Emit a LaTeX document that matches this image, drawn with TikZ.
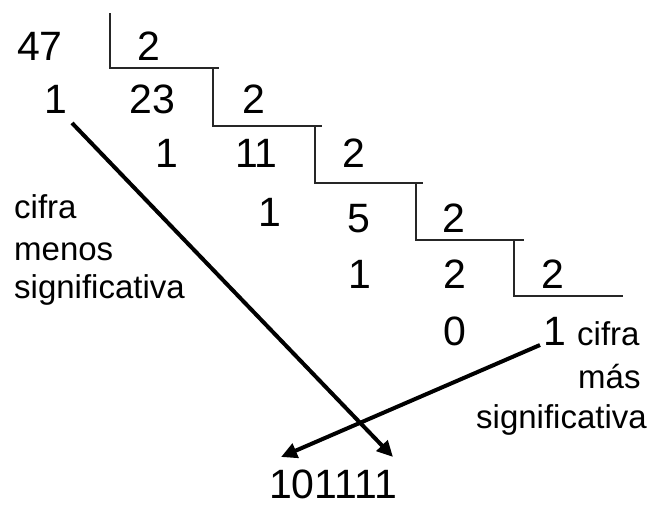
\documentclass[tikz,border=0pt]{standalone}
\usepackage{fontspec}
\setmainfont{Liberation Sans}
\usetikzlibrary{arrows.meta}
\tikzset{
  num/.style={inner sep=0pt, anchor=base, font=\fontsize{41}{48}\selectfont},
  lbl/.style={inner sep=0pt, anchor=base west, font=\fontsize{33}{40}\selectfont},
  stair/.style={line width=1.3pt, black!85},
  bigarrow/.style={line width=4pt, -{Triangle[length=16pt,width=15pt]}}
}
\begin{document}
\begin{tikzpicture}[x=1pt,y=-1pt]
\useasboundingbox (0,0) rectangle (653,506);
% numbers
\node[num] (n47) at (40,60) {47};
\node[num] (d1) at (148.5,60) {2};
\node[num] (r1) at (56,113) {1};
\node[num] (q1) at (152.5,113) {23};
\node[num] (d2) at (253.5,113) {2};
\node[num] (r2) at (166.5,167) {1};
\node[num] (q2) at (256.5,167) {11};
\node[num] (d3) at (353.5,167) {2};
\node[num] (r3) at (270,226) {1};
\node[num] (q3) at (359,232) {5};
\node[num] (d4) at (454,232) {2};
\node[num] (r4) at (360,288) {1};
\node[num] (q4) at (455,288) {2};
\node[num] (d5) at (552.5,288) {2};
\node[num] (r5) at (455,345) {0};
\node[num] (q5) at (555,345) {1};
\node[num] (res) at (333,498) {101111};
% labels
\node[lbl] (la) at (14,218) {cifra};
\node[lbl] (lb) at (14,260) {menos};
\node[lbl] (lc) at (14,298) {significativa};
\node[lbl] (ra) at (577,345) {cifra};
\node[lbl] (rb) at (578,388) {más};
\node[lbl] (rc) at (476,428) {significativa};
% staircase
\draw[stair] (110,13) -- (110,68) -- (219,68);
\draw[stair] (213,68) -- (213,126) -- (322,126);
\draw[stair] (315,126) -- (315,183) -- (423,183);
\draw[stair] (416,183) -- (416,240) -- (524,240);
\draw[stair] (514,240) -- (514,296) -- (623,296);
% arrows
\coordinate (a1s) at (72,123);
\coordinate (a1e) at (393,457);
\coordinate (a2s) at (540,345);
\coordinate (a2e) at (281,457);
\draw[bigarrow] (a1s) -- (a1e);
\draw[bigarrow] (a2s) -- (a2e);
\end{tikzpicture}
\end{document}
